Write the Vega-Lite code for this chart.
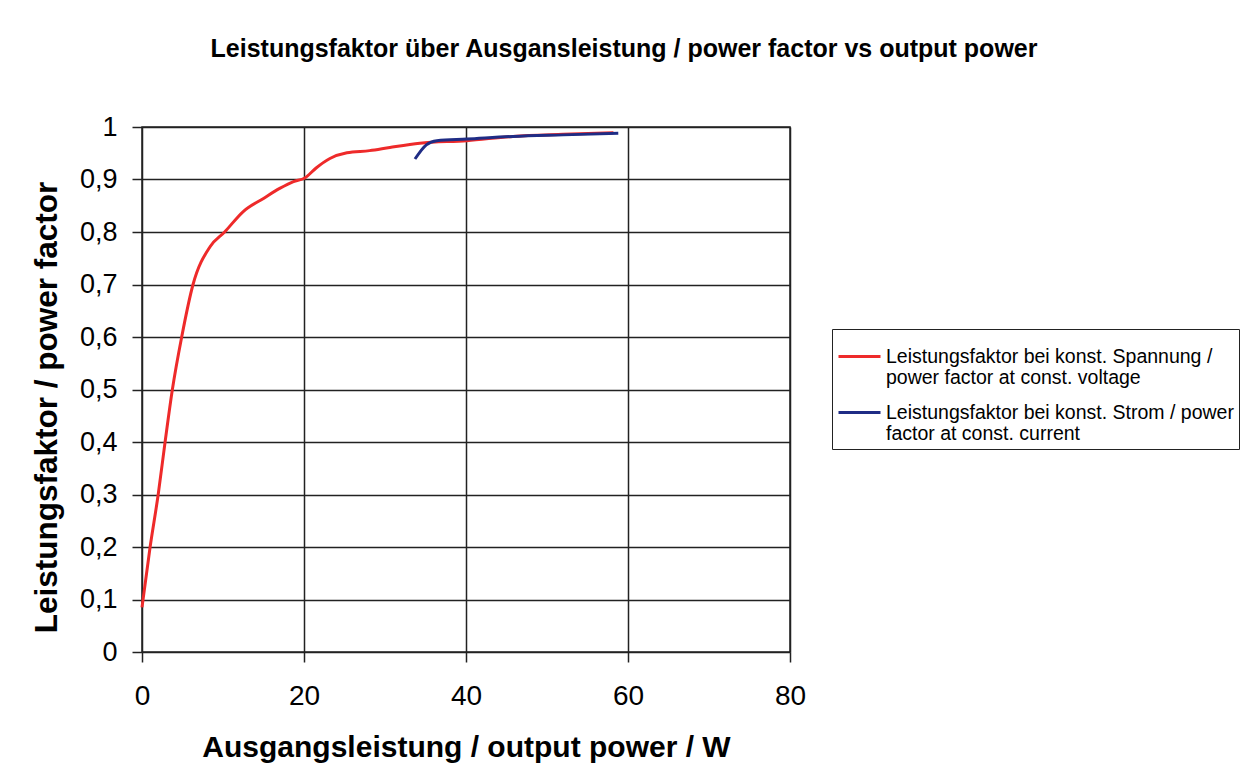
{
  "$schema": "https://vega.github.io/schema/vega-lite/v6.json",
  "autosize": {"type": "none"},
  "width": 648,
  "height": 525,
  "padding": {"left": 142, "top": 127, "right": 464, "bottom": 131},
  "background": "white",
  "title": {
    "text": "Leistungsfaktor über Ausgansleistung / power factor vs output power",
    "font": "Liberation Sans",
    "fontSize": 25,
    "fontWeight": "bold",
    "color": "#000",
    "anchor": "middle",
    "offset": 51,
    "dx": 158
  },
  "config": {
    "view": {"stroke": "#222", "strokeWidth": 1.5, "fill": "white"},
    "font": "Liberation Sans"
  },
  "data": {
    "values": [
      {"P": 0.0, "pf": 0.085, "s": "Leistungsfaktor bei konst. Spannung /|power factor at const. voltage"},
      {"P": 1.0, "pf": 0.2, "s": "Leistungsfaktor bei konst. Spannung /|power factor at const. voltage"},
      {"P": 2.0, "pf": 0.3, "s": "Leistungsfaktor bei konst. Spannung /|power factor at const. voltage"},
      {"P": 2.85, "pf": 0.4, "s": "Leistungsfaktor bei konst. Spannung /|power factor at const. voltage"},
      {"P": 3.75, "pf": 0.5, "s": "Leistungsfaktor bei konst. Spannung /|power factor at const. voltage"},
      {"P": 4.9, "pf": 0.6, "s": "Leistungsfaktor bei konst. Spannung /|power factor at const. voltage"},
      {"P": 6.3, "pf": 0.7, "s": "Leistungsfaktor bei konst. Spannung /|power factor at const. voltage"},
      {"P": 8.4, "pf": 0.772, "s": "Leistungsfaktor bei konst. Spannung /|power factor at const. voltage"},
      {"P": 10.2, "pf": 0.8, "s": "Leistungsfaktor bei konst. Spannung /|power factor at const. voltage"},
      {"P": 12.5, "pf": 0.839, "s": "Leistungsfaktor bei konst. Spannung /|power factor at const. voltage"},
      {"P": 15.0, "pf": 0.864, "s": "Leistungsfaktor bei konst. Spannung /|power factor at const. voltage"},
      {"P": 17.0, "pf": 0.883, "s": "Leistungsfaktor bei konst. Spannung /|power factor at const. voltage"},
      {"P": 18.7, "pf": 0.896, "s": "Leistungsfaktor bei konst. Spannung /|power factor at const. voltage"},
      {"P": 20.1, "pf": 0.903, "s": "Leistungsfaktor bei konst. Spannung /|power factor at const. voltage"},
      {"P": 21.5, "pf": 0.922, "s": "Leistungsfaktor bei konst. Spannung /|power factor at const. voltage"},
      {"P": 23.2, "pf": 0.94, "s": "Leistungsfaktor bei konst. Spannung /|power factor at const. voltage"},
      {"P": 25.3, "pf": 0.951, "s": "Leistungsfaktor bei konst. Spannung /|power factor at const. voltage"},
      {"P": 28.1, "pf": 0.955, "s": "Leistungsfaktor bei konst. Spannung /|power factor at const. voltage"},
      {"P": 30.6, "pf": 0.961, "s": "Leistungsfaktor bei konst. Spannung /|power factor at const. voltage"},
      {"P": 34.3, "pf": 0.969, "s": "Leistungsfaktor bei konst. Spannung /|power factor at const. voltage"},
      {"P": 40.1, "pf": 0.974, "s": "Leistungsfaktor bei konst. Spannung /|power factor at const. voltage"},
      {"P": 45.8, "pf": 0.982, "s": "Leistungsfaktor bei konst. Spannung /|power factor at const. voltage"},
      {"P": 52.0, "pf": 0.986, "s": "Leistungsfaktor bei konst. Spannung /|power factor at const. voltage"},
      {"P": 58.2, "pf": 0.989, "s": "Leistungsfaktor bei konst. Spannung /|power factor at const. voltage"},
      {"P": 33.7, "pf": 0.939, "s": "Leistungsfaktor bei konst. Strom / power|factor at const. current"},
      {"P": 35.1, "pf": 0.966, "s": "Leistungsfaktor bei konst. Strom / power|factor at const. current"},
      {"P": 36.4, "pf": 0.974, "s": "Leistungsfaktor bei konst. Strom / power|factor at const. current"},
      {"P": 40.1, "pf": 0.977, "s": "Leistungsfaktor bei konst. Strom / power|factor at const. current"},
      {"P": 45.8, "pf": 0.982, "s": "Leistungsfaktor bei konst. Strom / power|factor at const. current"},
      {"P": 52.0, "pf": 0.985, "s": "Leistungsfaktor bei konst. Strom / power|factor at const. current"},
      {"P": 58.8, "pf": 0.988, "s": "Leistungsfaktor bei konst. Strom / power|factor at const. current"}
    ]
  },
  "mark": {"type": "line", "strokeWidth": 3, "interpolate": "monotone"},
  "encoding": {
    "x": {
      "field": "P",
      "type": "quantitative",
      "scale": {"domain": [0, 80], "nice": false},
      "axis": {
        "values": [0, 20, 40, 60, 80],
        "labelFlush": false,
        "title": "Ausgangsleistung / output power / W",
        "titleFont": "Liberation Sans",
        "titleFontSize": 30,
        "titleFontWeight": "bold",
        "titleColor": "#000",
        "titlePadding": 22,
        "labelFont": "Liberation Sans",
        "labelFontSize": 28,
        "labelColor": "#000",
        "labelPadding": 20,
        "tickSize": 10,
        "tickColor": "#222",
        "tickWidth": 1.5,
        "domain": false,
        "grid": true,
        "gridColor": "#222",
        "gridWidth": 1.5,
        "gridOpacity": 1
      }
    },
    "y": {
      "field": "pf",
      "type": "quantitative",
      "scale": {"domain": [0, 1], "nice": false},
      "axis": {
        "values": [0, 0.1, 0.2, 0.3, 0.4, 0.5, 0.6, 0.7, 0.8, 0.9, 1],
        "labelExpr": "replace(format(datum.value, '.1~f'), '.', ',')",
        "title": "Leistungsfaktor / power factor",
        "titleFont": "Liberation Sans",
        "titleFontSize": 31.5,
        "titleFontWeight": "bold",
        "titleColor": "#000",
        "titlePadding": 16,
        "titleY": 280,
        "labelFont": "Liberation Sans",
        "labelFontSize": 27,
        "labelColor": "#000",
        "labelPadding": 15,
        "tickSize": 10,
        "tickColor": "#222",
        "tickWidth": 1.5,
        "domain": false,
        "grid": true,
        "gridColor": "#222",
        "gridWidth": 1.5,
        "gridOpacity": 1
      }
    },
    "color": {
      "field": "s",
      "type": "nominal",
      "scale": {
        "domain": ["Leistungsfaktor bei konst. Spannung /|power factor at const. voltage", "Leistungsfaktor bei konst. Strom / power|factor at const. current"],
        "range": ["#ee2a2a", "#1f2c85"]
      },
      "legend": {
        "title": null,
        "orient": "none",
        "legendX": 690,
        "legendY": 202,
        "symbolType": "stroke",
        "symbolSize": 1764,
        "symbolStrokeWidth": 3,
        "labelExpr": "split(datum.label, '|')",
        "labelFont": "Liberation Sans",
        "labelFontSize": 19.5,
        "labelLineHeight": 22,
        "labelColor": "#000",
        "labelLimit": 600,
        "labelOffset": 4,
        "rowPadding": 2,
        "strokeColor": "#222",
        "fillColor": "white",
        "padding": 5
      }
    }
  }
}
